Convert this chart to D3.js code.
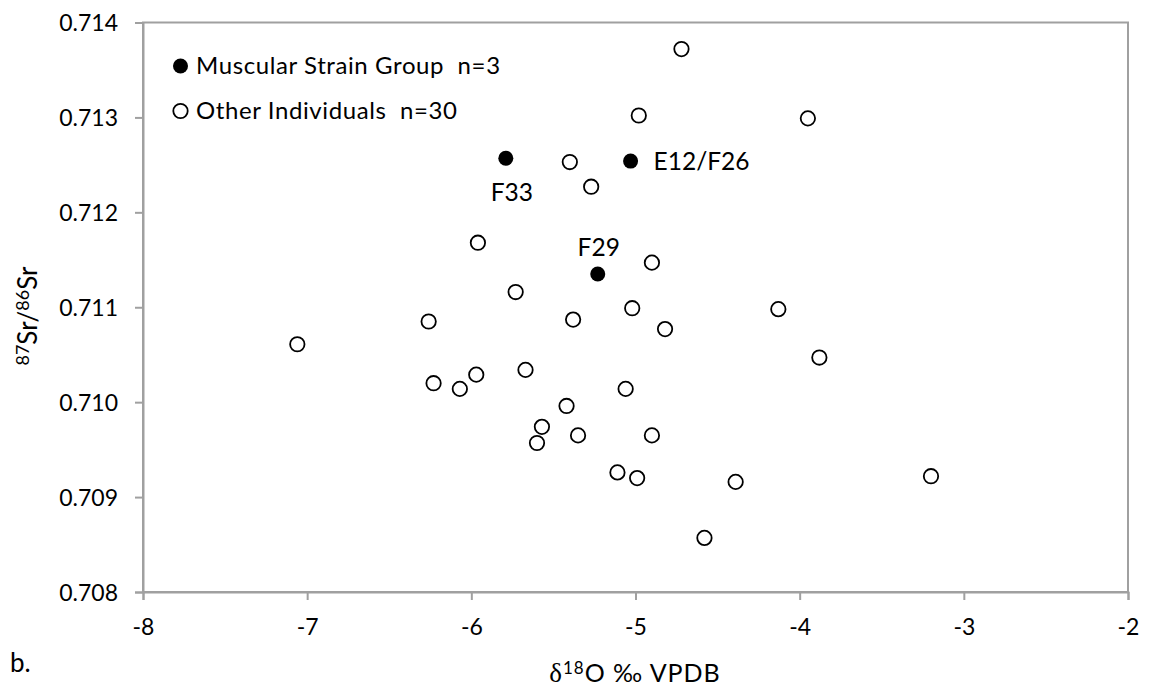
<!DOCTYPE html>
<html>
<head>
<meta charset="utf-8">
<script src="https://cdn.jsdelivr.net/npm/d3@7"></script>
<style>
  html, body { margin: 0; padding: 0; background: #fff; }
  svg { display: block; font-family: Lato, "Open Sans", sans-serif; }
</style>
</head>
<body>
<svg id="chart" width="1150" height="687"></svg>
<script>
// δ18O (‰ VPDB) and 87Sr/86Sr for the muscular strain group
const groupNames = ["F33", "E12/F26", "F29"];
const groupO = [-5.79, -5.03, -5.23];
const groupSr = [0.71257, 0.71254, 0.71135];

// δ18O and 87Sr/86Sr for the other individuals
const otherO = [-4.72, -4.98, -3.95, -5.40, -5.27, -5.96, -4.90, -5.73, -6.26, -5.38,
                -5.02, -4.82, -4.13, -7.06, -3.88, -6.23, -6.07, -5.97, -5.67, -5.06,
                -5.42, -5.57, -5.60, -5.35, -4.90, -5.11, -4.99, -4.39, -4.58, -3.20];
const otherSr = [0.71372, 0.71302, 0.71299, 0.71253, 0.71227, 0.71168, 0.71147, 0.71116, 0.71085, 0.71087,
                 0.71099, 0.71077, 0.71098, 0.71061, 0.71047, 0.71020, 0.71014, 0.71029, 0.71034, 0.71014,
                 0.70996, 0.70974, 0.70957, 0.70965, 0.70965, 0.70926, 0.70920, 0.70916, 0.70857, 0.70922];

// axis ticks
const xTicks = [-8, -7, -6, -5, -4, -3, -2];
const yTicks = [0.708, 0.709, 0.710, 0.711, 0.712, 0.713, 0.714];

// legend entries
const legendLabels = ["Muscular Strain Group  n=3", "Other Individuals  n=30"];

const svg = d3.select("#chart");
const axisColor = "#a0a0a0";

const x = d3.scaleLinear().domain([-8, -2]).range([143, 1128]);
const y = d3.scaleLinear().domain([0.708, 0.714]).range([592, 22.5]);

// plot frame (top and right edges)
svg.append("rect")
  .attr("x", x(-8)).attr("y", y(0.714))
  .attr("width", x(-2) - x(-8)).attr("height", y(0.708) - y(0.714))
  .attr("fill", "none").attr("stroke", axisColor).attr("stroke-width", 2);

// y axis
const yAxis = svg.append("g")
  .attr("transform", `translate(${x(-8)},0)`)
  .call(d3.axisLeft(y).tickValues(yTicks).tickFormat(d3.format(".3f")).tickSize(8).tickPadding(17));
// x axis
const xAxis = svg.append("g")
  .attr("transform", `translate(0,${y(0.708)})`)
  .call(d3.axisBottom(x).tickValues(xTicks).tickFormat(d => String(d)).tickSize(8).tickPadding(19));

[yAxis, xAxis].forEach(g => {
  g.select(".domain").attr("stroke", axisColor).attr("stroke-width", 2);
  g.selectAll(".tick line").attr("stroke", axisColor).attr("stroke-width", 2);
  g.selectAll(".tick text").attr("fill", "#000")
    .style("font-family", "Lato, 'Open Sans', sans-serif").style("font-size", "23px");
});
yAxis.selectAll(".tick text").attr("dy", "0.36em");

// other individuals: open circles
svg.append("g").selectAll("circle")
  .data(otherO.map((o, i) => ({ o, sr: otherSr[i] })))
  .join("circle")
  .attr("cx", d => x(d.o)).attr("cy", d => y(d.sr))
  .attr("r", 7.2)
  .attr("fill", "#fff").attr("stroke", "#000").attr("stroke-width", 1.8);

// muscular strain group: filled circles
const groups = groupO.map((o, i) => ({ o, sr: groupSr[i], name: groupNames[i] }));
svg.append("g").selectAll("circle")
  .data(groups)
  .join("circle")
  .attr("cx", d => x(d.o)).attr("cy", d => y(d.sr))
  .attr("r", 7.5).attr("fill", "#000");

// point labels
const labelPos = {
  "F33": { dx: 6, dy: 43, anchor: "middle" },
  "E12/F26": { dx: 23, dy: 8.5, anchor: "start" },
  "F29": { dx: 1, dy: -18, anchor: "middle" }
};
svg.append("g").selectAll("text")
  .data(groups)
  .join("text")
  .attr("x", d => x(d.o) + labelPos[d.name].dx)
  .attr("y", d => y(d.sr) + labelPos[d.name].dy)
  .attr("text-anchor", d => labelPos[d.name].anchor)
  .style("font-size", "24.5px")
  .text(d => d.name);

// legend
const legend = svg.append("g");
legendLabels.forEach((label, i) => {
  const cy = 66 + i * 45;
  legend.append("circle")
    .attr("cx", 180.5).attr("cy", cy).attr("r", i === 0 ? 7.5 : 7.2)
    .attr("fill", i === 0 ? "#000" : "#fff")
    .attr("stroke", i === 0 ? "none" : "#000").attr("stroke-width", 1.8);
  legend.append("text")
    .attr("x", 196).attr("y", cy + 7.5)
    .style("font-size", "24px").style("letter-spacing", "0.6px").style("white-space", "pre")
    .text(label);
});

// axis titles
const xTitle = svg.append("text")
  .attr("x", 635).attr("y", 682).attr("text-anchor", "middle")
  .style("font-size", "25px").style("letter-spacing", "1px");
xTitle.append("tspan").style("font-family", "'Liberation Serif', 'DejaVu Serif', serif").style("font-size", "27px").text("δ");
xTitle.append("tspan").attr("dy", -8).style("font-size", "17px").text("18");
xTitle.append("tspan").attr("dy", 8).text("O ‰ VPDB");

const yTitle = svg.append("text")
  .attr("transform", "translate(37,316) rotate(-90)")
  .attr("text-anchor", "middle")
  .style("font-size", "26px");
yTitle.append("tspan").attr("dy", -8).style("font-size", "18px").text("87");
yTitle.append("tspan").attr("dy", 8).text("Sr/");
yTitle.append("tspan").attr("dy", -8).style("font-size", "18px").text("86");
yTitle.append("tspan").attr("dy", 8).text("Sr");

// panel tag
svg.append("text").attr("x", 10).attr("y", 672).style("font-size", "26px").text("b.");
</script>
</body>
</html>
